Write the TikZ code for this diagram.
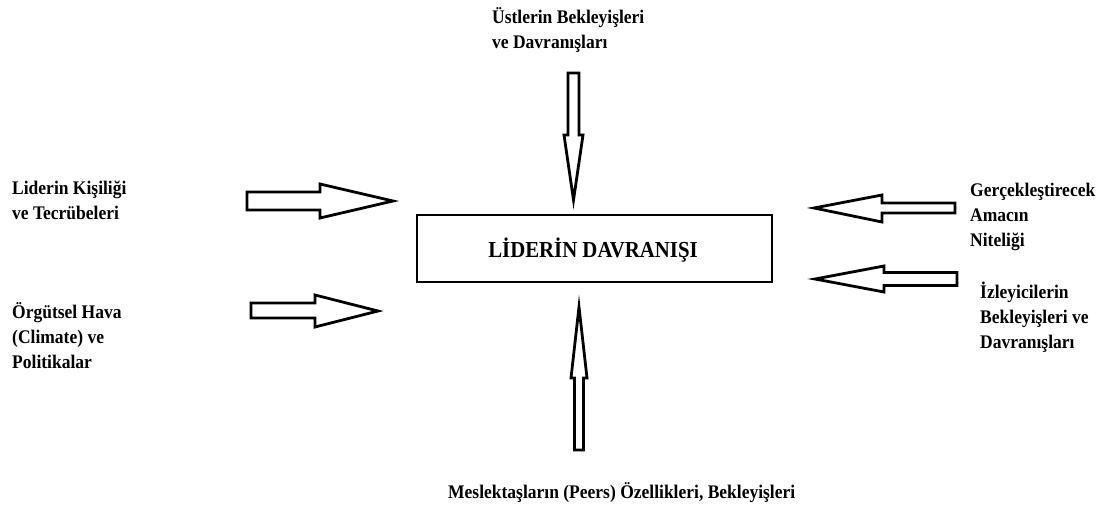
\documentclass[tikz,border=0pt]{standalone}
\usepackage{fontspec}
\setmainfont{Liberation Serif}
\begin{document}
\begin{tikzpicture}[x=1pt,y=-1pt,
  blockarrow/.style={draw=black,fill=white,line width=2.8pt,line join=miter,miter limit=20},
  label/.style={font=\fontsize{17.5}{22.7}\selectfont\bfseries,align=left,inner sep=0pt,
    anchor=base west,yscale=1.1,transform shape},
  centerbox/.style={draw=black,line width=2.8pt,minimum width=355pt,minimum height=67pt,inner sep=0pt},
  boxtext/.style={font=\fontsize{20.8}{24}\selectfont\bfseries,inner sep=0pt,anchor=base,
    yscale=1.1,transform shape}]
  \useasboundingbox[fill=white] (0,0) rectangle (1107,506);

  % central box and its caption
  \node[centerbox] (box) at (594.5,248.5) {};
  \node[boxtext] (boxlbl) at (593,257) {LİDERİN DAVRANIŞI};

  % labels (anchored at the baseline of their last line)
  \node[label] (ust) at (492,48) {Üstlerin Bekleyişleri\\ve Davranışları};
  \node[label] (kis) at (12,219) {Liderin Kişiliği\\ve Tecrübeleri};
  \node[label] (org) at (12,368) {Örgütsel Hava\\(Climate) ve\\Politikalar};
  \node[label] (amac) at (970,246) {Gerçekleştirecek\\Amacın\\Niteliği};
  \node[label] (izl) at (980,348) {İzleyicilerin\\Bekleyişleri ve\\Davranışları};
  \node[label] (mes) at (448,498) {Meslektaşların (Peers) Özellikleri, Bekleyişleri};

  % block arrows pointing towards the box
  \draw[blockarrow] (568,73) -- (579,73) -- (579,135) -- (583,135) -- (573.5,200)
    -- (564,135) -- (568,135) -- cycle;
  \draw[blockarrow] (574.5,450) -- (583.5,450) -- (583.5,378) -- (587,378) -- (579,307)
    -- (571,378) -- (574.5,378) -- cycle;
  \draw[blockarrow] (247,192) -- (320,192) -- (320,184) -- (393,201) -- (320,218)
    -- (320,210) -- (247,210) -- cycle;
  \draw[blockarrow] (251,303) -- (315,303) -- (315,295) -- (378,311) -- (315,327)
    -- (315,318) -- (251,318) -- cycle;
  \draw[blockarrow] (955,203) -- (882,203) -- (882,195) -- (814,208) -- (882,222)
    -- (882,213) -- (955,213) -- cycle;
  \draw[blockarrow] (957,272.5) -- (884,272.5) -- (884,266) -- (815,279) -- (884,292)
    -- (884,285.5) -- (957,285.5) -- cycle;
\end{tikzpicture}
\end{document}
